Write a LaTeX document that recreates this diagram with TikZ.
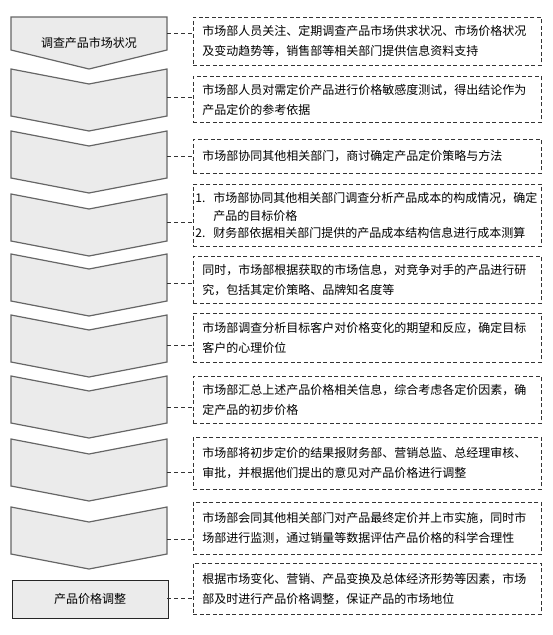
\documentclass[tikz,border=0pt]{standalone}
\usepackage{fontspec}
\newfontfamily\cjk{Noto Sans CJK SC}
\begin{document}
\begin{tikzpicture}[x=1pt,y=-1pt,
        chev/.style={draw=black!60,fill=black!8,line width=1.2pt},
        infobox/.style={draw=black!80,dash pattern=on 4pt off 2.5pt,line width=0.9pt,anchor=north west,
                text width=330pt,inner xsep=9pt,inner ysep=0pt,align=left,font=\cjk\fontsize{12}{20}\selectfont},
        link/.style={draw=black!80,dash pattern=on 4pt off 3pt,line width=0.9pt}]
        \useasboundingbox (0,0) rectangle (552,635);
        \draw[chev] (11,17) -- (167,17) -- (167,50) -- (89,69) -- (11,50) -- cycle;
        \node[font=\cjk\fontsize{12}{14}\selectfont] (t1) at (89,43) {调查产品市场状况};
        \foreach \t in {69,131,194,254,315,376,439,507}
                \draw[chev] (11,\t) -- (89,\t+15) -- (167,\t) -- (167,\t+47) -- (89,\t+62) -- (11,\t+47) -- cycle;
        \node[draw=black!85,fill=black!8,line width=0.9pt,minimum width=156pt,minimum height=38pt,
                font=\cjk\fontsize{12}{14}\selectfont] (last) at (90,599) {产品价格调整};
        \node[infobox,minimum height=48pt] (b1) at (193,17) {市场部人员关注、定期调查产品市场供求状况、市场价格状况\\及变动趋势等，销售部等相关部门提供信息资料支持};
        \node[infobox,minimum height=46pt] (b2) at (193,76) {市场部人员对需定价产品进行价格敏感度测试，得出结论作为\\产品定价的参考依据};
        \node[infobox,minimum height=34pt] (b3) at (193,139) {市场部协同其他相关部门，商讨确定产品定价策略与方法};
        \node[infobox,minimum height=62pt,text width=344pt,inner xsep=2pt,font=\cjk\fontsize{12}{17.5}\selectfont] (b4) at (193,184)
                {\makebox[18pt][l]{1.}市场部协同其他相关部门调查分析产品成本的构成情况，确定\\\hspace*{18pt}产品的目标价格\\\makebox[18pt][l]{2.}财务部依据相关部门提供的产品成本结构信息进行成本测算};
        \node[infobox,minimum height=47pt] (b5) at (193,256) {同时，市场部根据获取的市场信息，对竞争对手的产品进行研\\究，包括其定价策略、品牌知名度等};
        \node[infobox,minimum height=49pt] (b6) at (193,313) {市场部调查分析目标客户对价格变化的期望和反应，确定目标\\客户的心理价位};
        \node[infobox,minimum height=47pt] (b7) at (193,376) {市场部汇总上述产品价格相关信息，综合考虑各定价因素，确\\定产品的初步价格};
        \node[infobox,minimum height=52pt] (b8) at (193,437) {市场部将初步定价的结果报财务部、营销总监、总经理审核、\\审批，并根据他们提出的意见对产品价格进行调整};
        \node[infobox,minimum height=52pt] (b9) at (193,502) {市场部会同其他相关部门对产品最终定价并上市实施，同时市\\场部进行监测，通过销量等数据评估产品价格的科学合理性};
        \node[infobox,minimum height=51pt] (b10) at (193,563) {根据市场变化、营销、产品变换及总体经济形势等因素，市场\\部及时进行产品价格调整，保证产品的市场地位};
        \foreach \y [count=\i] in {33,97,156,222,283,345,407,472,539,598}
                \coordinate (p\i) at (167,\y);
        \foreach \i in {1,...,10}
                \draw[link] (p\i) -- (p\i -| b\i.west);
\end{tikzpicture}
\end{document}
